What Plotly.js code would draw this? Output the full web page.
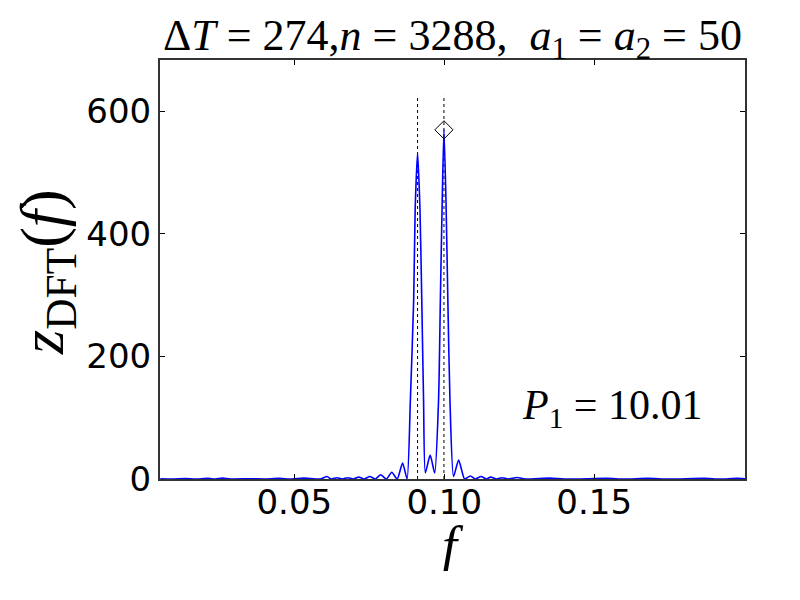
<!DOCTYPE html>
<html>
<head>
<meta charset="utf-8">
<script src="https://cdn.plot.ly/plotly-3.0.1.min.js"></script>
<style>
  html, body { margin: 0; padding: 0; background: #fff; }
  #chart { width: 800px; height: 600px; }
</style>
</head>
<body>
<div id="chart"></div>
<script>
// spectrum (f, z_DFT)
const freq = [
  0.0053, 0.0093, 0.0137, 0.0170, 0.0213, 0.0237, 0.0259, 0.0287, 0.0353, 0.0403,
  0.0447, 0.0493, 0.0530, 0.0587, 0.0609, 0.0623, 0.0642, 0.0660, 0.0678, 0.0697,
  0.0715, 0.0733, 0.0752, 0.0770, 0.0788, 0.0807, 0.0825, 0.0843, 0.0861, 0.0876,
  0.0887, 0.0898, 0.0903, 0.0911, 0.0919, 0.0925, 0.0931, 0.0937, 0.0953, 0.0968,
  0.0981, 0.0987, 0.0993, 0.0999, 0.1006, 0.1012, 0.1019, 0.1031, 0.1048, 0.1068,
  0.1087, 0.1103, 0.1123, 0.1140, 0.1155, 0.1173, 0.1193, 0.1213, 0.1243, 0.1270,
  0.1353, 0.1400, 0.1543, 0.1600, 0.1679, 0.1750, 0.1867, 0.1920, 0.1977, 0.2003
];
const zdft = [
  0.3, 0.0, 0.6, 0.0, 1.0, 0.0, 1.5, 0.0, 0.3, 0.0,
  1.0, 0.0, 1.5, 0.0, 4.0, 0.0, 2.0, 0.0, 2.0, 0.0,
  3.0, 0.0, 4.0, 0.0, 7.0, 0.0, 11, 0.0, 26, 0.0,
  129, 292, 440, 532, 440, 292, 129, 10, 39, 10,
  129, 292, 450, 570, 450, 292, 129, 4, 31, 0.0,
  5.0, 0.0, 4.0, 0.0, 3.0, 0.0, 2.0, 0.0, 2.5, 0.0,
  1.5, 0.0, 1.0, 0.0, 1.0, 0.0, 1.0, 0.0, 1.0, 0.3
];

// detected peaks and the strongest one
const peakFreq = [0.0911, 0.0999];
const markTop = 627;
const bestFreq = [0.0999];
const bestZ = [570];

const xTicks = [0.05, 0.10, 0.15];
const xTickText = ['0.05', '0.10', '0.15'];
const yTicks = [0, 200, 400, 600];

const traces = [];
peakFreq.forEach(f => {
  traces.push({
    x: [f, f], y: [0, markTop],
    type: 'scatter', mode: 'lines',
    line: { color: '#000', width: 1, dash: 'dot' },
    hoverinfo: 'skip', showlegend: false
  });
});
traces.push({
  x: freq, y: zdft,
  type: 'scatter', mode: 'lines',
  line: { color: '#0000ff', width: 1.6, shape: 'spline', smoothing: 0.6 },
  showlegend: false
});
traces.push({
  x: bestFreq, y: bestZ,
  type: 'scatter', mode: 'markers',
  marker: { symbol: 'diamond-open', size: 14, color: '#000', line: { width: 1, color: '#000' } },
  showlegend: false
});

const serif = 'Liberation Serif, serif';
const axisCommon = {
  showline: true, mirror: 'ticks', linecolor: '#333', linewidth: 2,
  ticks: 'inside', ticklen: 5, tickwidth: 1, tickcolor: '#000',
  showgrid: false, zeroline: false,
  tickfont: { family: 'DejaVu Sans', size: 34, color: '#000' }
};

const layout = {
  width: 800, height: 600,
  margin: { l: 160, r: 55, t: 60, b: 121 },
  paper_bgcolor: '#fff', plot_bgcolor: '#fff',
  xaxis: Object.assign({}, axisCommon, {
    range: [0.0052, 0.2003], tickvals: xTicks, ticktext: xTickText,
    ticklabelstandoff: -8
  }),
  yaxis: Object.assign({}, axisCommon, {
    range: [0, 684], tickvals: yTicks
  }),
  annotations: [
    {
      xref: 'paper', yref: 'paper', x: 0.5, y: 1.0525, xanchor: 'center', yanchor: 'middle',
      text: '\u0394<i>T</i> = 274,<i>n</i> = 3288,  <i>a</i><sub>1</sub> = <i>a</i><sub>2</sub> = 50',
      showarrow: false, font: { family: serif, size: 44, color: '#000' }
    },
    {
      xref: 'paper', yref: 'paper', x: -0.195, y: 0.494, xanchor: 'center', yanchor: 'middle',
      textangle: -90,
      text: '<i>z</i><sub>DFT</sub>(<i>f</i>)',
      showarrow: false, font: { family: serif, size: 62, color: '#000' }
    },
    {
      xref: 'paper', yref: 'paper', x: 0.5, y: -0.16, xanchor: 'center', yanchor: 'middle',
      height: 50, valign: 'middle',
      text: '<i>f</i>',
      showarrow: false, font: { family: serif, size: 54, color: '#000' }
    },
    {
      xref: 'paper', yref: 'paper', x: 0.7735, y: 0.169, xanchor: 'center', yanchor: 'middle',
      text: '<i>P</i><sub>1</sub> = 10.01',
      showarrow: false, font: { family: serif, size: 42, color: '#000' }
    }
  ]
};

Plotly.newPlot('chart', traces, layout, { displayModeBar: false, staticPlot: true });
</script>
</body>
</html>
